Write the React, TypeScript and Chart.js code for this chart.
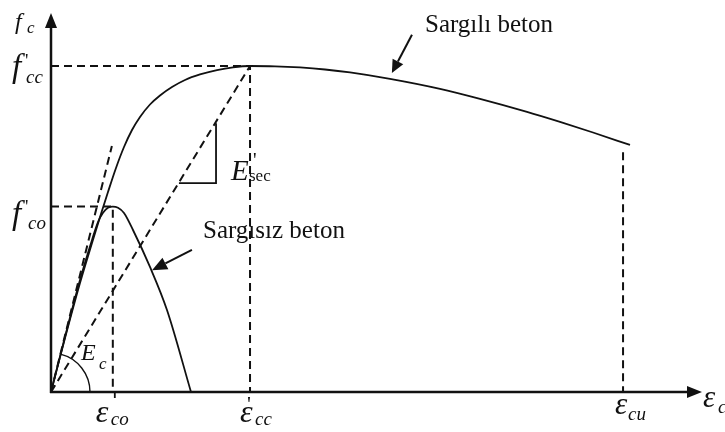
import React, { useEffect, useRef } from "react";
import { Chart, registerables } from "chart.js";

Chart.register(...registerables);

// Strain in ‰, stress in MPa
const strainConfined = [0, 0.453, 0.938, 1.327, 1.586, 1.844, 2.103, 2.362, 2.621, 2.88, 3.203, 3.527, 3.915, 4.336, 4.821, 5.371, 5.889, 6.44, 7.248, 8.057, 8.866, 9.675, 10.969, 12.587, 13.881, 15.402, 16.47, 17.538, 18.735];
const stressConfined = [0, 8.74, 17.64, 24.11, 28.32, 32.36, 36.25, 39.64, 42.39, 44.5, 46.52, 47.98, 49.35, 50.49, 51.38, 52.1, 52.54, 52.75, 52.7, 52.51, 52.18, 51.7, 50.65, 49.03, 47.41, 45.31, 43.69, 41.99, 39.97];

const strainUnconfined = [0, 0.453, 0.938, 1.327, 1.521, 1.683, 1.844, 2.0, 2.168, 2.362, 2.653, 3.203, 3.753, 4.53];
const stressUnconfined = [0, 8.9, 18.12, 24.6, 27.5, 29.0, 29.8, 30.0, 29.8, 28.96, 26.21, 20.23, 13.27, 0];

// Characteristic points
const fco = 30.0;
const fcc = 52.75;
const epsCo = 2.0;
const epsCc = 6.44;
const epsCu = 18.51;
const epsCuGuideTop = 38.8;

// Initial tangent (Ec) end point
const tangentEnd = [1.97, 39.8];

// Slope triangle on the secant line (E'sec)
const triangleStrain = [4.14, 5.34, 5.34];
const triangleStress = [33.8, 33.8, 43.5];

// Axis extents
const strainMax = 21;
const stressMax = 61;

// Arrow annotations [fromX, fromY, toX, toY]
const arrowConfined = [11.68, 57.8, 11.03, 51.6];
const arrowUnconfined = [4.56, 23.0, 3.27, 19.7];

const pts = (xs: number[], ys: number[]) => xs.map((x, i) => ({ x, y: ys[i] }));

const SERIF = '"Liberation Serif", "Times New Roman", serif';

function put(ctx: CanvasRenderingContext2D, s: string, x: number, y: number, size: number, italic = true) {
  ctx.font = `${italic ? "italic " : ""}${size}px ${SERIF}`;
  ctx.fillText(s, x, y);
}

function arrow(ctx: CanvasRenderingContext2D, x1: number, y1: number, x2: number, y2: number, len: number, half: number) {
  const a = Math.atan2(y2 - y1, x2 - x1);
  const bx = x2 - len * Math.cos(a);
  const by = y2 - len * Math.sin(a);
  ctx.beginPath();
  ctx.moveTo(x1, y1);
  ctx.lineTo(bx, by);
  ctx.lineWidth = 2;
  ctx.stroke();
  ctx.beginPath();
  ctx.moveTo(x2, y2);
  ctx.lineTo(bx + half * Math.sin(a), by - half * Math.cos(a));
  ctx.lineTo(bx - half * Math.sin(a), by + half * Math.cos(a));
  ctx.closePath();
  ctx.fill();
}

const annotations = {
  id: "annotations",
  afterDatasetsDraw(chart: any) {
    const ctx: CanvasRenderingContext2D = chart.ctx;
    const X = (v: number) => chart.scales.x.getPixelForValue(v);
    const Y = (v: number) => chart.scales.y.getPixelForValue(v);
    const x0 = X(0);
    const y0 = Y(0);
    ctx.save();
    ctx.fillStyle = "#111";
    ctx.strokeStyle = "#111";
    ctx.setLineDash([]);

    // axes with arrowheads
    ctx.lineWidth = 2.5;
    const yTip = Y(stressMax) - 2;
    const xTip = X(strainMax) + 2;
    ctx.beginPath();
    ctx.moveTo(x0, y0 + 1);
    ctx.lineTo(x0, yTip + 14);
    ctx.moveTo(x0 - 1, y0);
    ctx.lineTo(xTip - 14, y0);
    ctx.stroke();
    ctx.beginPath();
    ctx.moveTo(x0, yTip);
    ctx.lineTo(x0 - 6, yTip + 15);
    ctx.lineTo(x0 + 6, yTip + 15);
    ctx.closePath();
    ctx.fill();
    ctx.beginPath();
    ctx.moveTo(xTip, y0);
    ctx.lineTo(xTip - 15, y0 - 6);
    ctx.lineTo(xTip - 15, y0 + 6);
    ctx.closePath();
    ctx.fill();

    // Ec angle arc
    const ang = Math.atan2(Y(tangentEnd[1]) - y0, X(tangentEnd[0]) - x0);
    ctx.lineWidth = 1.4;
    ctx.beginPath();
    ctx.arc(x0, y0, 39, ang, 0);
    ctx.stroke();

    // small tick under eps_co
    ctx.lineWidth = 1.8;
    ctx.beginPath();
    ctx.moveTo(X(epsCo) + 2, y0 + 1);
    ctx.lineTo(X(epsCo) + 2, y0 + 6);
    ctx.stroke();

    // arrows
    arrow(ctx, X(arrowConfined[0]), Y(arrowConfined[1]), X(arrowConfined[2]), Y(arrowConfined[3]), 13, 6);
    arrow(ctx, X(arrowUnconfined[0]), Y(arrowUnconfined[1]), X(arrowUnconfined[2]), Y(arrowUnconfined[3]), 15, 6.5);

    // curve labels
    ctx.textAlign = "left";
    ctx.textBaseline = "alphabetic";
    put(ctx, "Sargılı beton", 425, 32, 25, false);
    put(ctx, "Sargısız beton", 203, 238, 25, false);

    // axis symbols
    put(ctx, "f", x0 - 36, 29, 24);
    put(ctx, "c", x0 - 24, 33, 17);

    const yCc = Y(fcc);
    put(ctx, "f", x0 - 39, yCc + 11, 33);
    put(ctx, "'", x0 - 26, yCc + 1, 19, false);
    put(ctx, "cc", x0 - 25, yCc + 17, 19);

    const yCo = Y(fco);
    put(ctx, "f", x0 - 39, yCo + 17, 33);
    put(ctx, "'", x0 - 26, yCo + 6, 19, false);
    put(ctx, "co", x0 - 23, yCo + 22, 19);

    const xCo = X(epsCo);
    put(ctx, "ε", xCo - 17, y0 + 30, 32);
    put(ctx, "co", xCo - 2, y0 + 33, 19);

    const xCc = X(epsCc);
    put(ctx, "ε", xCc - 10, y0 + 30, 32);
    put(ctx, "'", xCc - 3, y0 + 19, 22, false);
    put(ctx, "cc", xCc + 5, y0 + 33, 19);

    const xCu = X(epsCu);
    put(ctx, "ε", xCu - 8, y0 + 22, 31);
    put(ctx, "cu", xCu + 5, y0 + 28, 19);

    put(ctx, "ε", xTip + 1, y0 + 15, 31);
    put(ctx, "c", xTip + 16, y0 + 21, 19);

    // moduli
    put(ctx, "E", 231, 180, 29);
    put(ctx, "'", 253, 167, 20, false);
    put(ctx, "sec", 249, 181, 17, false);

    put(ctx, "E", 81, 360, 24);
    put(ctx, "c", 99, 369, 17);

    ctx.restore();
  },
};

export default function App() {
  const canvasRef = useRef<HTMLCanvasElement | null>(null);

  useEffect(() => {
    const canvas = canvasRef.current;
    if (!canvas) return;
    const ink = "#111";
    const dashed = { borderColor: ink, borderWidth: 2, borderDash: [8, 5], pointRadius: 0, fill: false, tension: 0 };

    const chart = new Chart(canvas, {
      type: "line",
      data: {
        datasets: [
          {
            label: "Sargılı beton",
            data: pts(strainConfined, stressConfined),
            borderColor: ink,
            borderWidth: 1.8,
            pointRadius: 0,
            cubicInterpolationMode: "monotone",
          },
          {
            label: "Sargısız beton",
            data: pts(strainUnconfined, stressUnconfined),
            borderColor: ink,
            borderWidth: 1.8,
            pointRadius: 0,
            cubicInterpolationMode: "monotone",
          },
          { label: "fcc", data: [{ x: 0, y: fcc }, { x: epsCc, y: fcc }, { x: epsCc, y: 0 }], ...dashed },
          { label: "fco", data: [{ x: 0, y: fco }, { x: epsCo, y: fco }, { x: epsCo, y: 0 }], ...dashed },
          { label: "ecu", data: [{ x: epsCu, y: epsCuGuideTop }, { x: epsCu, y: 0 }], ...dashed },
          { label: "Ec", data: [{ x: 0, y: 0 }, { x: tangentEnd[0], y: tangentEnd[1] }], ...dashed },
          { label: "Esec", data: [{ x: 0, y: 0 }, { x: epsCc, y: fcc }], ...dashed },
          {
            label: "triangle",
            data: pts(triangleStrain, triangleStress),
            borderColor: ink,
            borderWidth: 1.8,
            pointRadius: 0,
            tension: 0,
          },
        ],
      },
      options: {
        responsive: false,
        animation: false,
        devicePixelRatio: 1,
        layout: { padding: { left: 51, right: 25, top: 15, bottom: 40 } },
        plugins: { legend: { display: false }, tooltip: { enabled: false } },
        scales: {
          x: { type: "linear", min: 0, max: strainMax, display: false },
          y: { type: "linear", min: 0, max: stressMax, display: false },
        },
      },
      plugins: [annotations],
    } as any);

    return () => chart.destroy();
  }, []);

  return (
    <div style={{ position: "fixed", left: 0, top: 0, width: 725, height: 432, background: "#fff" }}>
      <canvas ref={canvasRef} width={725} height={432} style={{ display: "block" }} />
    </div>
  );
}
